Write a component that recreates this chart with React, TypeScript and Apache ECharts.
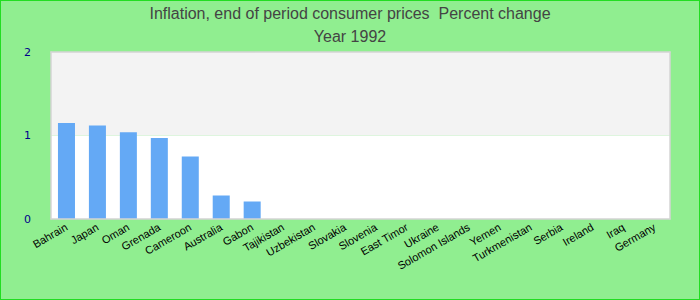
import React, { useEffect, useRef } from "react";
import * as echarts from "echarts";

const titleLines = ["Inflation, end of period consumer prices  Percent change", "Year 1992"];
const countries = [
  "Bahrain", "Japan", "Oman", "Grenada", "Cameroon", "Australia", "Gabon", "Tajikistan",
  "Uzbekistan", "Slovakia", "Slovenia", "East Timor", "Ukraine", "Solomon Islands", "Yemen",
  "Turkmenistan", "Serbia", "Ireland", "Iraq", "Germany",
];
const values = [1.15, 1.12, 1.04, 0.97, 0.75, 0.28, 0.21, 0, 0, 0, 0, 0, 0, 0, 0, 0, 0, 0, 0, 0];

export default function App() {
  const ref = useRef<HTMLDivElement>(null);
  useEffect(() => {
    document.body.style.margin = "0";
    const chart = echarts.init(ref.current!, null, { renderer: "svg" });
    const frameLine = { show: true, onZero: false, lineStyle: { color: "#d4d4d4", width: 1.5 } };
    chart.setOption({
      animation: false,
      backgroundColor: "#90EE90",
      title: {
        text: titleLines.join("\n"),
        left: "center",
        top: -4,
        textStyle: {
          color: "#444",
          fontSize: 16,
          fontWeight: "normal",
          fontFamily: "Liberation Sans, Arial, sans-serif",
          lineHeight: 23,
        },
      },
      grid: {
        left: 50,
        right: 29,
        top: 51,
        bottom: 80,
      },
      xAxis: [
        {
          type: "category",
          data: countries,
          axisLine: frameLine,
          axisTick: { show: false },
          axisLabel: {
            rotate: 30,
            interval: 0,
            color: "#000",
            fontSize: 11,
            fontFamily: "Liberation Sans, Arial, sans-serif",
            margin: 7,
          },
          z: 5,
        },
        {
          type: "category",
          position: "top",
          data: countries,
          axisLine: frameLine,
          axisTick: { show: false },
          axisLabel: { show: false },
          z: 5,
        },
      ],
      yAxis: [
        {
          type: "value",
          min: 0,
          max: 2,
          interval: 1,
          axisLine: frameLine,
          axisTick: { show: false },
          splitLine: { show: false },
          splitArea: { show: true, areaStyle: { color: ["#ffffff", "#f3f3f3"] } },
          axisLabel: {
            color: "#00008b",
            fontSize: 11,
            fontFamily: "DejaVu Sans, sans-serif",
            margin: 20,
          },
        },
        {
          type: "value",
          position: "right",
          min: 0,
          max: 2,
          interval: 1,
          axisLine: frameLine,
          axisTick: { show: false },
          splitLine: { show: false },
          axisLabel: { show: false },
          z: 5,
        },
      ],
      series: [
        {
          type: "bar",
          data: values,
          barWidth: "55%",
          itemStyle: { color: "#64a9f5" },
          z: 3,
        },
      ],
    });
    return () => chart.dispose();
  }, []);
  return (
    <div style={{ width: 700, height: 300, border: "1px solid #22dd22", boxSizing: "border-box" }}>
      <div ref={ref} style={{ width: 698, height: 298 }} />
    </div>
  );
}
